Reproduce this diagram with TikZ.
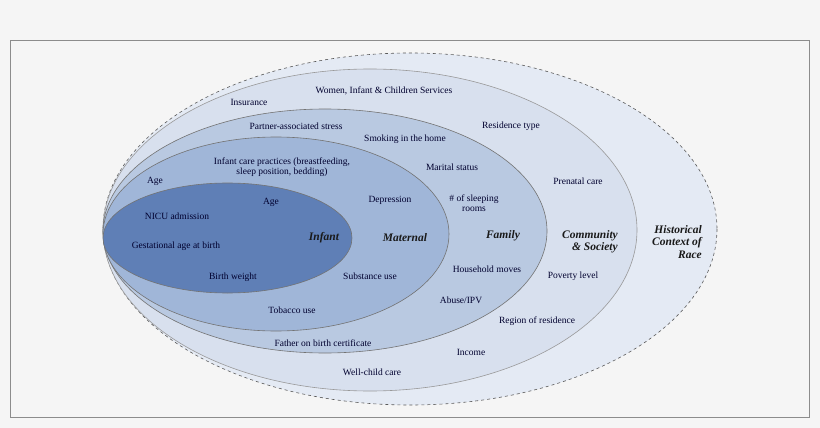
\documentclass[tikz,border=0pt]{standalone}
\usepackage{fontspec}
\setmainfont{Liberation Serif}
\begin{document}
\begin{tikzpicture}[x=1pt,y=-1pt,
  lab/.style={font=\fontsize{9.5}{10.5}\selectfont, text=black!70!blue!60!black, align=center, inner sep=0pt},
  ttl/.style={font=\fontsize{11.5}{12.5}\selectfont\bfseries\itshape, text=black!90, align=center, inner sep=0pt},
  ring/.style={draw=black!55, line width=0.6pt}]
\fill[black!4] (0,0) rectangle (820,428);
\useasboundingbox (0,0) rectangle (820,428);
\draw[black!45, line width=0.8pt] (10,40) rectangle (809,417);
\definecolor{c1}{HTML}{E4EAF4}
\definecolor{c2}{HTML}{D8E0EE}
\definecolor{c3}{HTML}{B9C9E1}
\definecolor{c4}{HTML}{A0B6D8}
\definecolor{c5}{HTML}{5F7FB6}
\draw[fill=c1, draw=black!65, dashed, line width=0.6pt] (410,229) ellipse [x radius=307, y radius=176];
\draw[ring, fill=c2, draw=black!40] (370,230) ellipse [x radius=267, y radius=161];
\draw[ring, fill=c3] (325,231) ellipse [x radius=222, y radius=122];
\draw[ring, fill=c4] (276,234) ellipse [x radius=173, y radius=97];
\draw[ring, fill=c5] (227.5,238) ellipse [x radius=124.5, y radius=55];
% titles
\node[ttl] (ti) at (324,238) {Infant};
\node[ttl] (tm) at (405,238) {Maternal};
\node[ttl] (tf) at (503,236) {Family};
\node[ttl, align=right] (tc) at (590,242) {Community\\\& Society};
\node[ttl, align=right] (th) at (677,242) {Historical\\Context of\\Race};
% infant
\node[lab] (i1) at (271,202) {Age};
\node[lab] (i2) at (177,216) {NICU admission};
\node[lab] (i3) at (176,246) {Gestational age at birth};
\node[lab] (i4) at (233,277) {Birth weight};
% maternal
\node[lab] (m1) at (155,181) {Age};
\node[lab] (m2) at (282,167) {Infant care practices (breastfeeding,\\sleep position, bedding)};
\node[lab] (m3) at (390,200) {Depression};
\node[lab] (m4) at (370,276) {Substance use};
\node[lab] (m5) at (292,310) {Tobacco use};
% family
\node[lab] (f1) at (296,126) {Partner-associated stress};
\node[lab] (f2) at (405,139) {Smoking in the home};
\node[lab] (f3) at (452,167) {Marital status};
\node[lab] (f4) at (474,203) {\# of sleeping\\rooms};
\node[lab] (f5) at (487,269) {Household moves};
\node[lab] (f6) at (461,300) {Abuse/IPV};
\node[lab] (f7) at (323,343) {Father on birth certificate};
% community
\node[lab] (c1) at (384,91) {Women, Infant \& Children Services};
\node[lab] (c2) at (249,102) {Insurance};
\node[lab] (c3) at (511,126) {Residence type};
\node[lab] (c4) at (578,181) {Prenatal care};
\node[lab] (c5) at (573,276) {Poverty level};
\node[lab] (c6) at (537,321) {Region of residence};
\node[lab] (c7) at (471,352) {Income};
\node[lab] (c8) at (372,372) {Well-child care};
\end{tikzpicture}
\end{document}
